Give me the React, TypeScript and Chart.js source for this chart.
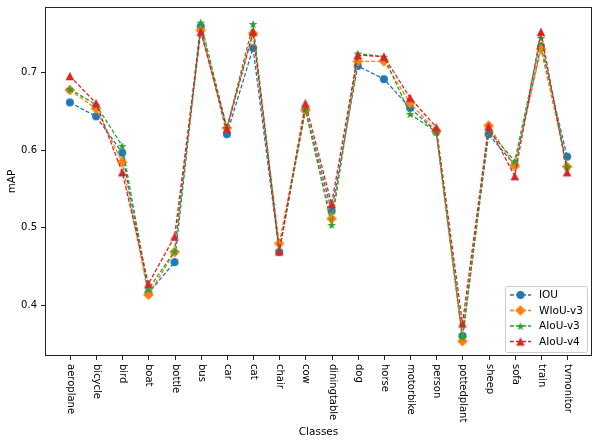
import React, { useEffect, useRef } from "react";
import { Chart, registerables } from "chart.js";

Chart.register(...registerables);

const categories = [
  "aeroplane", "bicycle", "bird", "boat", "bottle", "bus", "car", "cat", "chair", "cow",
  "diningtable", "dog", "horse", "motorbike", "person", "pottedplant", "sheep", "sofa", "train", "tvmonitor",
];
const iouValues = [0.661, 0.643, 0.596, 0.415, 0.455, 0.759, 0.620, 0.731, 0.468, 0.652, 0.521, 0.708, 0.691, 0.654, 0.623, 0.360, 0.620, 0.580, 0.733, 0.591];
const wiouV3Values = [0.677, 0.653, 0.584, 0.413, 0.468, 0.754, 0.628, 0.750, 0.479, 0.651, 0.511, 0.714, 0.714, 0.660, 0.624, 0.353, 0.631, 0.579, 0.730, 0.578];
const aiouV3Values = [0.678, 0.658, 0.605, 0.420, 0.469, 0.764, 0.628, 0.762, 0.470, 0.652, 0.503, 0.724, 0.720, 0.646, 0.623, 0.358, 0.625, 0.585, 0.744, 0.578];
const aiouV4Values = [0.695, 0.660, 0.571, 0.427, 0.488, 0.752, 0.627, 0.752, 0.469, 0.660, 0.530, 0.722, 0.720, 0.667, 0.629, 0.376, 0.630, 0.566, 0.752, 0.571];
const yTicks = [0.4, 0.5, 0.6, 0.7];
const seriesNames = ["IOU", "WIoU-v3", "AIoU-v3", "AIoU-v4"];
const seriesColors = ["#1f77b4", "#ff7f0e", "#2ca02c", "#d62728"];
const seriesMarkers = ["circle", "diamond", "star", "triangle"];

const TICK_FONT = '10px "DejaVu Sans"';
const TEXT_FONT = '10.5px "DejaVu Sans"';

function makeMarker(type: string, color: string): HTMLCanvasElement {
  const s = 14;
  const c = document.createElement("canvas");
  c.width = s;
  c.height = s;
  const ctx = c.getContext("2d")!;
  const cx = s / 2;
  const cy = s / 2;
  ctx.fillStyle = color;
  ctx.beginPath();
  if (type === "circle") {
    ctx.arc(cx, cy, 4, 0, Math.PI * 2);
  } else if (type === "diamond") {
    const r = 5.3;
    ctx.moveTo(cx, cy - r);
    ctx.lineTo(cx + r, cy);
    ctx.lineTo(cx, cy + r);
    ctx.lineTo(cx - r, cy);
    ctx.closePath();
  } else if (type === "star") {
    const ro = 4.6;
    const ri = ro * 0.38;
    for (let i = 0; i < 10; i++) {
      const r = i % 2 === 0 ? ro : ri;
      const a = -Math.PI / 2 + (i * Math.PI) / 5;
      const px = cx + r * Math.cos(a);
      const py = cy + 0.5 + r * Math.sin(a);
      if (i === 0) ctx.moveTo(px, py);
      else ctx.lineTo(px, py);
    }
    ctx.closePath();
  } else {
    const r = 4.3;
    ctx.moveTo(cx, cy - r);
    ctx.lineTo(cx + r, cy + r);
    ctx.lineTo(cx - r, cy + r);
    ctx.closePath();
  }
  ctx.fill();
  return c;
}

export default function App() {
  const ref = useRef<HTMLCanvasElement | null>(null);

  useEffect(() => {
    document.body.style.margin = "0";
    const canvas = ref.current;
    if (!canvas) return;
    const markers = seriesMarkers.map((m, i) => makeMarker(m, seriesColors[i]));
    const allValues = [iouValues, wiouV3Values, aiouV3Values, aiouV4Values];

    const datasets = allValues.map((vals, i) => ({
      label: seriesNames[i],
      data: vals.map((v, j) => ({ x: j, y: v })),
      borderColor: seriesColors[i],
      backgroundColor: seriesColors[i],
      borderWidth: 1.3,
      borderDash: [4, 2],
      pointStyle: markers[i] as any,
      pointRadius: 5,
      pointHoverRadius: 5,
      fill: false,
      tension: 0,
      order: 4 - i,
    }));

    const decor = {
      id: "decor",
      afterDraw(chart: any) {
        const ctx = chart.ctx as CanvasRenderingContext2D;
        const area = chart.chartArea;
        const xs = chart.scales.x;
        const ys = chart.scales.y;
        ctx.save();
        ctx.strokeStyle = "#222";
        ctx.lineWidth = 1;
        ctx.strokeRect(Math.round(area.left) + 0.5, Math.round(area.top) + 0.5,
          Math.round(area.right - area.left) - 1, Math.round(area.bottom - area.top) - 1);
        ctx.fillStyle = "#000";
        ctx.font = TICK_FONT;
        categories.forEach((name, i) => {
          const px = Math.round(xs.getPixelForValue(i)) + 0.5;
          ctx.beginPath();
          ctx.moveTo(px, area.bottom);
          ctx.lineTo(px, area.bottom + 4);
          ctx.stroke();
          ctx.save();
          ctx.translate(px, area.bottom + 8);
          ctx.rotate(Math.PI / 2);
          ctx.textAlign = "left";
          ctx.textBaseline = "middle";
          ctx.fillText(name, 0, 0);
          ctx.restore();
        });
        yTicks.forEach((t) => {
          const py = Math.round(ys.getPixelForValue(t)) + 0.5;
          ctx.beginPath();
          ctx.moveTo(area.left - 4, py);
          ctx.lineTo(area.left, py);
          ctx.stroke();
          ctx.textAlign = "right";
          ctx.textBaseline = "middle";
          ctx.fillText(t.toFixed(1), area.left - 8, py);
        });
        ctx.font = TEXT_FONT;
        ctx.textAlign = "center";
        ctx.textBaseline = "middle";
        ctx.fillText("Classes", (area.left + area.right) / 2, 432);
        ctx.save();
        ctx.translate(12, (area.top + area.bottom) / 2);
        ctx.rotate(-Math.PI / 2);
        ctx.fillText("mAP", 0, 0);
        ctx.restore();
        const lx = 505, ly = 286, lw = 82, lh = 66;
        ctx.fillStyle = "rgba(255,255,255,0.85)";
        ctx.strokeStyle = "#cccccc";
        ctx.beginPath();
        (ctx as any).roundRect ? (ctx as any).roundRect(lx + 0.5, ly + 0.5, lw, lh, 2) : ctx.rect(lx + 0.5, ly + 0.5, lw, lh);
        ctx.fill();
        ctx.stroke();
        seriesNames.forEach((name, i) => {
          const ry = 295 + i * 15.5;
          ctx.strokeStyle = seriesColors[i];
          ctx.lineWidth = 1.3;
          ctx.setLineDash([4, 2]);
          ctx.beginPath();
          ctx.moveTo(510, ry);
          ctx.lineTo(531, ry);
          ctx.stroke();
          ctx.setLineDash([]);
          const m = markers[i];
          ctx.drawImage(m, 520.5 - m.width / 2, ry - m.height / 2);
          ctx.fillStyle = "#000";
          ctx.textAlign = "left";
          ctx.textBaseline = "middle";
          ctx.font = TEXT_FONT;
          ctx.fillText(name, 539, ry + 0.5);
        });
        ctx.restore();
      },
    };

    const chart = new Chart(canvas, {
      type: "line",
      data: { datasets: datasets as any },
      options: {
        animation: false,
        responsive: false,
        devicePixelRatio: 1,
        layout: { padding: { left: 0, top: 7, right: 8, bottom: 0 } },
        plugins: { legend: { display: false }, tooltip: { enabled: false } },
        scales: {
          x: {
            type: "linear",
            min: -0.95,
            max: 19.95,
            grid: { display: false },
            border: { display: false },
            ticks: { display: false },
            afterFit: (s: any) => { s.height = 89; },
          },
          y: {
            type: "linear",
            min: 0.334,
            max: 0.784,
            grid: { display: false },
            border: { display: false },
            ticks: { display: false },
            afterFit: (s: any) => { s.width = 45; },
          },
        },
      },
      plugins: [decor],
    });
    return () => chart.destroy();
  }, []);

  return (
    <div style={{ width: 600, height: 445, background: "#fff" }}>
      <canvas ref={ref} width={600} height={445} />
    </div>
  );
}
